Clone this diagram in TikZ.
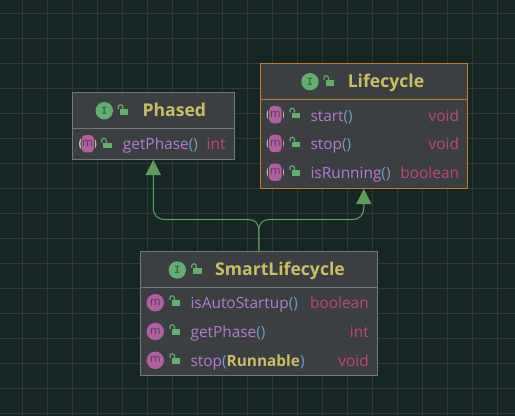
\documentclass[tikz,border=0pt]{standalone}
\usepackage{fontspec}
\setmainfont{Open Sans}
\setmonofont{DejaVu Sans Mono}
\usetikzlibrary{arrows.meta}
\definecolor{bgc}{HTML}{152725}
\definecolor{gridc}{HTML}{343637}
\definecolor{boxc}{HTML}{3C3F41}
\definecolor{edgec}{HTML}{72787A}
\definecolor{orangec}{HTML}{C87A2C}
\definecolor{linkc}{HTML}{5E9C5A}
\definecolor{titlec}{HTML}{C9BE62}
\definecolor{methc}{HTML}{B47AD2}
\definecolor{typec}{HTML}{C4447F}
\definecolor{parenc}{HTML}{6F9CC8}
\definecolor{iconc}{HTML}{B25FA2}
\definecolor{iconm}{HTML}{5E3A58}
\definecolor{ringc}{HTML}{B9B9B9}
\definecolor{greenc}{HTML}{62B06F}
\definecolor{igreen}{HTML}{3D6E48}
\tikzset{
  x=0.75pt,y=-0.75pt,
  umlbox/.style={draw=edgec,line width=0.9pt,fill=boxc,inner sep=0pt,rectangle},
  sel/.style={draw=orangec},
  titletext/.style={font=\fontsize{13.2}{15}\selectfont\bfseries,text=titlec,inner sep=0pt},
  methtext/.style={font=\fontsize{11.55}{13}\selectfont,text=methc,anchor=mid west,inner sep=0pt},
  typetext/.style={font=\fontsize{11.55}{13}\selectfont,text=typec,anchor=mid east,inner sep=0pt},
  link/.style={draw=linkc,line width=0.8pt},
  inherit/.style={-{Triangle[length=11.5pt,width=11.5pt,fill=linkc]}},
}
% open padlock
\newcommand{\padlock}[2]{%
  \fill[greenc] (#1-3.4,#2-0.8) rectangle (#1+5,#2+5);
  \draw[greenc,line width=0.85pt] (#1-0.5,#2-0.8) -- (#1-0.5,#2-3) arc (0:-180:2.25) -- ++(0,2);
}
% interface badge
\newcommand{\ibadge}[3]{%
  \fill[greenc] (#1,#2) circle[radius=8.7];
  \node[font=\fontsize{7.5}{8}\selectfont\bfseries\ttfamily,text=igreen,inner sep=0pt] (#3) at (#1,#2) {I};
}
% plain method badge
\newcommand{\mbadge}[3]{%
  \fill[iconc] (#1,#2) circle[radius=8.7];
  \node[font=\fontsize{8.5}{9}\selectfont,text=iconm,inner sep=0pt] (#3) at (#1,#2-0.5) {m};
}
% abstract method badge
\newcommand{\abadge}[3]{%
  \draw[ringc,line width=1.1pt] (#1,#2) circle[radius=8];
  \fill[boxc] (#1-7.2,#2-10) rectangle (#1+7.2,#2+10);
  \fill[iconc,rounded corners=3pt] (#1-6.2,#2-8.7) rectangle (#1+6.2,#2+8.7);
  \node[font=\fontsize{8.5}{9}\selectfont,text=iconm,inner sep=0pt] (#3) at (#1,#2-0.5) {m};
}
\newcommand{\parens}{\textcolor{parenc}{()}}
\begin{document}
\begin{tikzpicture}
\useasboundingbox (0,0) rectangle (515,416);
\fill[bgc] (0,0) rectangle (515,416);
% grid
\foreach \gx in {0,...,20} \draw[gridc,line width=0.75pt] ({22.5+25*\gx},0) -- ({22.5+25*\gx},416);
\foreach \gy in {0,...,16} \draw[gridc,line width=0.75pt] (0,{13.3+25*\gy}) -- (515,{13.3+25*\gy});

% boxes
\node[umlbox,minimum width=121.5pt,minimum height=50.25pt] (phased) at (153.3,125.8) {};
\node[umlbox,sel,minimum width=155.25pt,minimum height=93.75pt] (lifecycle) at (363.8,125.8) {};
\node[umlbox,minimum width=177.75pt,minimum height=93pt] (smart) at (258.8,313.8) {};

% header dividers
\draw[edgec,line width=0.8pt] (phased.west |- 0,128.7) -- (phased.east |- 0,128.7);
\draw[orangec,line width=0.8pt] (lifecycle.west |- 0,99.3) -- (lifecycle.east |- 0,99.3);
\draw[edgec,line width=0.8pt] (smart.west |- 0,287.3) -- (smart.east |- 0,287.3);

% connectors
\coordinate (forkb) at (258.8,231);
\coordinate (forkl) at (248,219.5);
\coordinate (forkr) at (269.6,219.5);
\coordinate (pbend) at (165,219.5);
\coordinate (pup) at (153.3,207);
\coordinate (lbend) at (352,219.5);
\coordinate (lup) at (363.8,207);
\draw[link,inherit] (smart.north) -- (forkb) .. controls (258.8,223) and (255,219.5) .. (forkl) -- (pbend) .. controls (157,219.5) and (153.3,215) .. (pup) -- (phased.south);
\draw[link,inherit] (smart.north) -- (forkb) .. controls (258.8,223) and (262.6,219.5) .. (forkr) -- (lbend) .. controls (360,219.5) and (363.8,215) .. (lup) -- (lifecycle.south);

% Phased
\ibadge{104.3}{110.7}{phasedi}
\padlock{123.3}{110}
\node[titletext,anchor=mid] (phasedt) at (174.3,112.5) {Phased};
\abadge{87.7}{143.8}{phasedm}
\padlock{106.7}{143.5}
\node[methtext] (phasedn) at (122.7,146) {getPhase\parens};
\node[typetext] (phasedy) at (225.7,146) {int};

% Lifecycle
\ibadge{310}{81.7}{lifei}
\padlock{329}{81}
\node[titletext,anchor=mid] (lifet) at (386,83.5) {Lifecycle};
\abadge{275.3}{114.7}{lifea}
\padlock{295}{113.5}
\node[methtext] (lifean) at (310.3,117.5) {start\parens};
\node[typetext] (lifeay) at (459.3,117.5) {void};
\abadge{275.3}{143.5}{lifeb}
\padlock{295}{142.5}
\node[methtext] (lifebn) at (310.3,146) {stop\parens};
\node[typetext] (lifeby) at (459.3,146) {void};
\abadge{275.3}{172.3}{lifec}
\padlock{295}{171}
\node[methtext] (lifecn) at (310.3,174.5) {isRunning\parens};
\node[typetext] (lifecy) at (459.3,174.5) {boolean};

% SmartLifecycle
\ibadge{177.3}{270}{smarti}
\padlock{196.7}{269}
\node[titletext,anchor=mid] (smartt) at (280,272) {SmartLifecycle};
\mbadge{155.3}{302.7}{smarta}
\padlock{175}{301}
\node[methtext] (smartan) at (190.3,305) {isAutoStartup\parens};
\node[typetext] (smartay) at (369,305) {boolean};
\mbadge{155.3}{331.5}{smartb}
\padlock{175}{330}
\node[methtext] (smartbn) at (190.3,333.8) {getPhase\parens};
\node[typetext] (smartby) at (369,333.8) {int};
\mbadge{155.3}{360.3}{smartc}
\padlock{175}{359}
\node[methtext] (smartcn) at (190.3,362.5) {stop\textcolor{parenc}{(}\textcolor{titlec}{\bfseries Runnable}\textcolor{parenc}{)}};
\node[typetext] (smartcy) at (369,362.5) {void};
\end{tikzpicture}
\end{document}
